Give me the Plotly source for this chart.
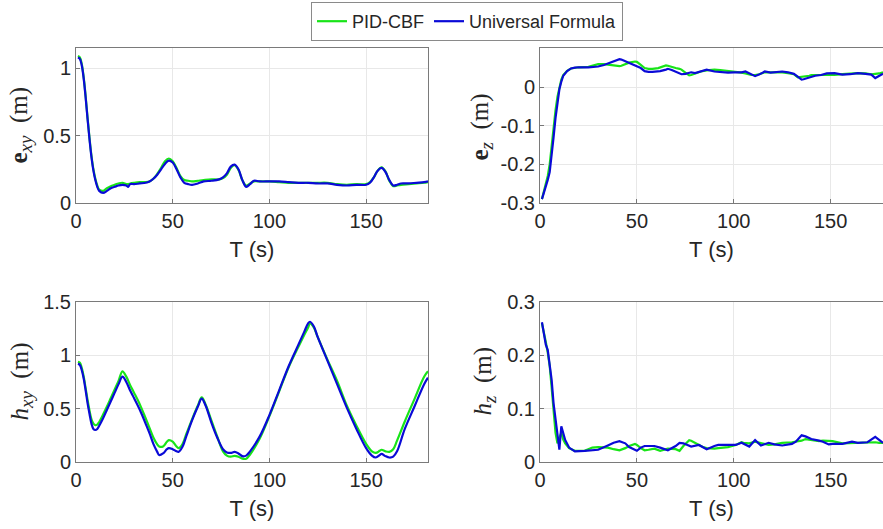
import plotly.graph_objects as go
from plotly.subplots import make_subplots

# ---- data ----
# e_xy (top-left)
t_exy = [1, 2, 3, 4, 5, 6, 7, 8, 9, 10, 11, 12, 14, 16, 18, 20, 22, 24, 26, 27, 28, 30, 33, 36, 38,
         40, 42, 44, 46, 48, 50, 52, 54, 56, 58, 60, 63, 66, 70, 74, 76, 78, 80, 82, 84, 86, 88,
         90, 92, 95, 100, 105, 110, 115, 120, 125, 130, 135, 140, 145, 150, 152, 154, 156, 158,
         160, 162, 164, 166, 168, 172, 176, 180, 182]
exy_pid = [1.09, 1.08, 1.03, 0.93, 0.79, 0.63, 0.48, 0.35, 0.25, 0.18, 0.13, 0.10, 0.09, 0.11, 0.125,
           0.135, 0.145, 0.15, 0.14, 0.14, 0.145, 0.15, 0.155, 0.155, 0.16,
           0.18, 0.215, 0.26, 0.31, 0.33, 0.31, 0.26, 0.20, 0.17, 0.165, 0.16, 0.165, 0.17, 0.175,
           0.175, 0.185, 0.21, 0.26, 0.28, 0.245, 0.17, 0.13,
           0.145, 0.16, 0.16, 0.16, 0.155, 0.15, 0.15, 0.15, 0.15, 0.15, 0.14, 0.135, 0.14, 0.14,
           0.155, 0.19, 0.24, 0.265, 0.235, 0.165, 0.125, 0.13, 0.135, 0.14, 0.145, 0.15, 0.155]
exy_uf = [1.08, 1.07, 1.02, 0.92, 0.78, 0.62, 0.47, 0.34, 0.24, 0.17, 0.12, 0.09, 0.075, 0.09, 0.11,
          0.12, 0.13, 0.135, 0.13, 0.12, 0.14, 0.14, 0.145, 0.15, 0.16,
          0.18, 0.21, 0.25, 0.29, 0.315, 0.30, 0.25, 0.19, 0.15, 0.14, 0.135, 0.145, 0.16, 0.165,
          0.175, 0.19, 0.22, 0.27, 0.285, 0.25, 0.17, 0.12,
          0.14, 0.165, 0.16, 0.16, 0.16, 0.155, 0.15, 0.15, 0.145, 0.145, 0.135, 0.13, 0.135, 0.135,
          0.15, 0.19, 0.24, 0.26, 0.23, 0.17, 0.13, 0.135, 0.145, 0.145, 0.15, 0.155, 0.16]

# e_z (top-right)
t_ez = [1, 2, 3, 4, 5, 6, 7, 8, 9, 10, 11, 12, 14, 16, 18, 20, 25, 28, 30, 33, 36, 38, 41, 42, 44,
        46, 49, 50, 52, 54, 56, 58, 61, 62, 65, 66, 68, 70, 72, 73, 75, 77, 78, 80, 83, 86, 90,
        93, 97, 100, 103, 104, 106, 109, 111, 113, 116, 119, 122, 125, 128, 131, 133, 135, 136,
        139, 140, 142, 145, 148, 152, 156, 160, 164, 168, 171, 173, 175, 177]
ez_pid = [-0.29, -0.27, -0.25, -0.23, -0.2, -0.15, -0.1, -0.06, -0.025, 0.0, 0.02, 0.032, 0.043, 0.049,
          0.051, 0.052, 0.053, 0.058, 0.060, 0.060, 0.058, 0.056, 0.055, 0.056, 0.060,
          0.064, 0.067, 0.066, 0.058, 0.05, 0.048, 0.048, 0.05, 0.052, 0.057, 0.056, 0.052, 0.05,
          0.048, 0.046, 0.038, 0.031, 0.032, 0.036, 0.041, 0.044, 0.046,
          0.045, 0.043, 0.041, 0.039, 0.038, 0.036, 0.032, 0.032, 0.034, 0.039, 0.039, 0.039,
          0.039, 0.037, 0.034, 0.026, 0.027, 0.028, 0.030, 0.032, 0.032, 0.031, 0.031, 0.032,
          0.034, 0.036, 0.037, 0.036, 0.034, 0.035, 0.036, 0.039]
ez_uf = [-0.29, -0.275, -0.255, -0.24, -0.22, -0.18, -0.13, -0.08, -0.04, -0.005, 0.015, 0.03, 0.042,
         0.049, 0.051, 0.052, 0.052, 0.053, 0.054, 0.058, 0.063, 0.067, 0.073, 0.072, 0.068,
         0.062, 0.058, 0.055, 0.05, 0.042, 0.04, 0.04, 0.041, 0.042, 0.046, 0.048, 0.045, 0.04,
         0.035, 0.034, 0.035, 0.038, 0.039, 0.037, 0.042, 0.046, 0.041,
         0.039, 0.038, 0.039, 0.038, 0.039, 0.041, 0.034, 0.029, 0.033, 0.041, 0.038, 0.039,
         0.041, 0.039, 0.035, 0.028, 0.02, 0.021, 0.026, 0.027, 0.03, 0.032, 0.036, 0.037,
         0.033, 0.034, 0.037, 0.035, 0.033, 0.024, 0.03, 0.035]

# h_xy (bottom-left)
t_hxy = [1, 2, 3, 4, 5, 6, 7, 8, 9, 10, 11, 12, 14, 16, 18, 20, 22, 24, 26, 28, 30, 33, 36, 38,
         40, 42, 43, 45, 47, 48, 50, 52, 53, 55, 57, 60, 63, 65, 67, 70, 73, 76, 78, 80, 82, 84,
         86, 88, 90, 95, 100, 105, 110, 115, 118, 120, 121, 123, 125, 130, 135, 140, 145, 150,
         153, 155, 157, 158, 160, 162, 164, 166, 170, 175, 180, 182]
hxy_pid = [0.94, 0.93, 0.88, 0.80, 0.69, 0.58, 0.48, 0.40, 0.36, 0.345, 0.35, 0.375, 0.445, 0.52,
           0.60, 0.68, 0.76, 0.85, 0.80, 0.72, 0.65, 0.54, 0.41, 0.32,
           0.23, 0.165, 0.145, 0.145, 0.19, 0.205, 0.19, 0.145, 0.13, 0.165, 0.26, 0.40, 0.53,
           0.605, 0.54, 0.39, 0.24, 0.10, 0.06, 0.05, 0.058, 0.05,
           0.032, 0.03, 0.07, 0.22, 0.43, 0.66, 0.89, 1.08, 1.19, 1.26, 1.3, 1.26, 1.17, 0.96,
           0.76, 0.53, 0.34, 0.17, 0.10, 0.085, 0.105, 0.115, 0.10, 0.095, 0.12, 0.2, 0.38, 0.59,
           0.80, 0.85]
hxy_uf = [0.92, 0.91, 0.86, 0.78, 0.67, 0.55, 0.45, 0.36, 0.31, 0.30, 0.31, 0.34, 0.41, 0.49,
          0.57, 0.65, 0.73, 0.80, 0.75, 0.67, 0.60, 0.49, 0.36, 0.27,
          0.17, 0.095, 0.065, 0.08, 0.12, 0.13, 0.12, 0.10, 0.095, 0.14, 0.24, 0.39, 0.52,
          0.595, 0.53, 0.37, 0.23, 0.12, 0.09, 0.085, 0.094, 0.08,
          0.055, 0.06, 0.10, 0.24, 0.44, 0.67, 0.90, 1.10, 1.22, 1.30, 1.315, 1.27, 1.17, 0.95,
          0.73, 0.51, 0.31, 0.13, 0.06, 0.042, 0.065, 0.077, 0.055, 0.042, 0.05, 0.1, 0.31, 0.52,
          0.73, 0.79]

# h_z (bottom-right)
t_hz = [1, 2, 3, 4, 5, 6, 7, 8, 9, 10, 11, 12, 13, 15, 18, 23, 27, 30, 35, 38, 41, 44, 46, 49,
        50, 52, 54, 56, 59, 62, 66, 70, 72, 74, 77, 78, 82, 84, 86, 90, 92, 97, 101, 104, 105,
        108, 111, 114, 118, 121, 125, 130, 132, 135, 137, 140, 144, 146, 149, 151, 156, 161,
        164, 166, 169, 173, 175, 177]
hz_pid = [0.26, 0.245, 0.225, 0.205, 0.18, 0.14, 0.09, 0.055, 0.035, 0.045, 0.055, 0.042, 0.035,
          0.026, 0.021, 0.021, 0.027, 0.028, 0.027, 0.024, 0.022, 0.026, 0.03, 0.034,
          0.032, 0.026, 0.022, 0.023, 0.025, 0.021, 0.025, 0.024, 0.021, 0.03, 0.041, 0.04,
          0.031, 0.028, 0.026, 0.025, 0.026, 0.028, 0.032, 0.037, 0.036,
          0.035, 0.038, 0.035, 0.032, 0.033, 0.036, 0.037, 0.038, 0.04, 0.043, 0.041, 0.039,
          0.04, 0.039, 0.039, 0.035, 0.036, 0.036, 0.036, 0.037, 0.037, 0.036, 0.036]
hz_uf = [0.262, 0.24, 0.22, 0.21, 0.185, 0.154, 0.11, 0.078, 0.045, 0.023, 0.067, 0.052, 0.041,
         0.027, 0.02, 0.021, 0.022, 0.023, 0.031, 0.036, 0.039, 0.035, 0.028, 0.022,
         0.021, 0.027, 0.03, 0.03, 0.03, 0.027, 0.022, 0.03, 0.036, 0.035, 0.03, 0.029,
         0.032, 0.028, 0.024, 0.03, 0.032, 0.032, 0.032, 0.036, 0.034,
         0.029, 0.041, 0.031, 0.036, 0.033, 0.031, 0.034, 0.038, 0.05, 0.048, 0.043, 0.04,
         0.038, 0.033, 0.034, 0.034, 0.038, 0.036, 0.036, 0.037, 0.047, 0.041, 0.036]

x_ticks = [0, 50, 100, 150]
y_ticks = [[0, 0.5, 1], [-0.3, -0.2, -0.1, 0], [0, 0.5, 1, 1.5], [0, 0.1, 0.2, 0.3]]
y_tick_text = [["0", "0.5", "1"], ["-0.3", "-0.2", "-0.1", "0"],
               ["0", "0.5", "1", "1.5"], ["0", "0.1", "0.2", "0.3"]]
y_ranges = [[0, 1.15], [-0.3, 0.102], [0, 1.5], [0, 0.3]]
x_ranges = [[0, 182], [0, 177], [0, 182], [0, 177]]
SUB = '<sub><span style="font-size:19px">%s</span></sub>'
y_labels = ["<b>e</b>" + SUB % "<i>xy</i>" + "  (m)",
            "<b>e</b>" + SUB % "<i>z</i>" + "  (m)",
            "<i>h</i>" + SUB % "<i>xy</i>" + "  (m)",
            "<i>h</i>" + SUB % "<i>z</i>" + "  (m)"]

GREEN = "rgb(24,228,24)"
BLUE = "rgb(10,10,215)"
SANS = "Liberation Sans, Arial, sans-serif"
TICK_FONT = dict(family=SANS, size=20, color="#262626")
LABEL_FONT = dict(family="Liberation Serif, Times New Roman, serif", size=25, color="#262626")

W, H = 883, 529
# pixel boxes of the four axes: (left, right, top, bottom)
boxes = [(76, 428, 48, 203), (540, 883, 48, 203), (76, 428, 302, 462), (540, 883, 302, 462)]
label_pos = [(20, 125.5), (481, 126.5), (21, 381.5), (484, 381.5)]

fig = make_subplots(rows=2, cols=2)

panels = [(t_exy, exy_pid, exy_uf), (t_ez, ez_pid, ez_uf),
          (t_hxy, hxy_pid, hxy_uf), (t_hz, hz_pid, hz_uf)]

for i, (t, pid, uf) in enumerate(panels):
    r, c = i // 2 + 1, i % 2 + 1
    shape = "spline" if i in (0, 2) else "linear"
    fig.add_trace(go.Scatter(x=t, y=pid, mode="lines", name="PID-CBF",
                             line=dict(color=GREEN, width=2.2, shape=shape),
                             showlegend=(i == 0)), row=r, col=c)
    fig.add_trace(go.Scatter(x=t, y=uf, mode="lines", name="Universal Formula",
                             line=dict(color=BLUE, width=2.2, shape=shape),
                             showlegend=(i == 0)), row=r, col=c)

    left, right, top, bottom = boxes[i]
    ax = dict(
        domain=[left / W, right / W],
        range=x_ranges[i],
        tickvals=x_ticks,
        ticks="inside", ticklen=4, tickcolor="#777",
        showgrid=True, gridcolor="#e8e8e8",
        showline=True, mirror=True, linecolor="#7a7a7a", linewidth=1,
        zeroline=False, automargin=False,
        tickfont=TICK_FONT,
        title=dict(text="T (s)", font=dict(family=SANS, size=22, color="#262626"), standoff=10),
    )
    ay = dict(
        domain=[1 - bottom / H, 1 - top / H],
        range=y_ranges[i],
        tickvals=y_ticks[i], ticktext=y_tick_text[i],
        ticks="inside", ticklen=4, tickcolor="#777",
        showgrid=True, gridcolor="#e8e8e8",
        showline=True, mirror=True, linecolor="#7a7a7a", linewidth=1,
        zeroline=False, automargin=False,
        tickfont=TICK_FONT,
    )
    fig.update_xaxes(ax, row=r, col=c)
    fig.update_yaxes(ay, row=r, col=c)

    lx, ly = label_pos[i]
    fig.add_annotation(text=y_labels[i], xref="paper", yref="paper",
                       x=lx / W, y=1 - ly / H, xanchor="center", yanchor="middle",
                       textangle=-90, showarrow=False, font=LABEL_FONT)

fig.update_layout(
    width=W, height=H,
    margin=dict(l=0, r=0, t=0, b=0),
    paper_bgcolor="white", plot_bgcolor="white",
    legend=dict(orientation="h", x=467 / W, y=1 - 2 / H, xanchor="center", yanchor="top",
                bgcolor="white", bordercolor="#8a8a8a", borderwidth=1,
                font=dict(family=SANS, size=18, color="#262626"),
                itemwidth=30, tracegroupgap=0),
)

# drop the default page margin so the figure sits at the window's top-left corner
fig.write_html("out.html", config={"displayModeBar": False},
               post_script="document.body.style.margin='0';")
